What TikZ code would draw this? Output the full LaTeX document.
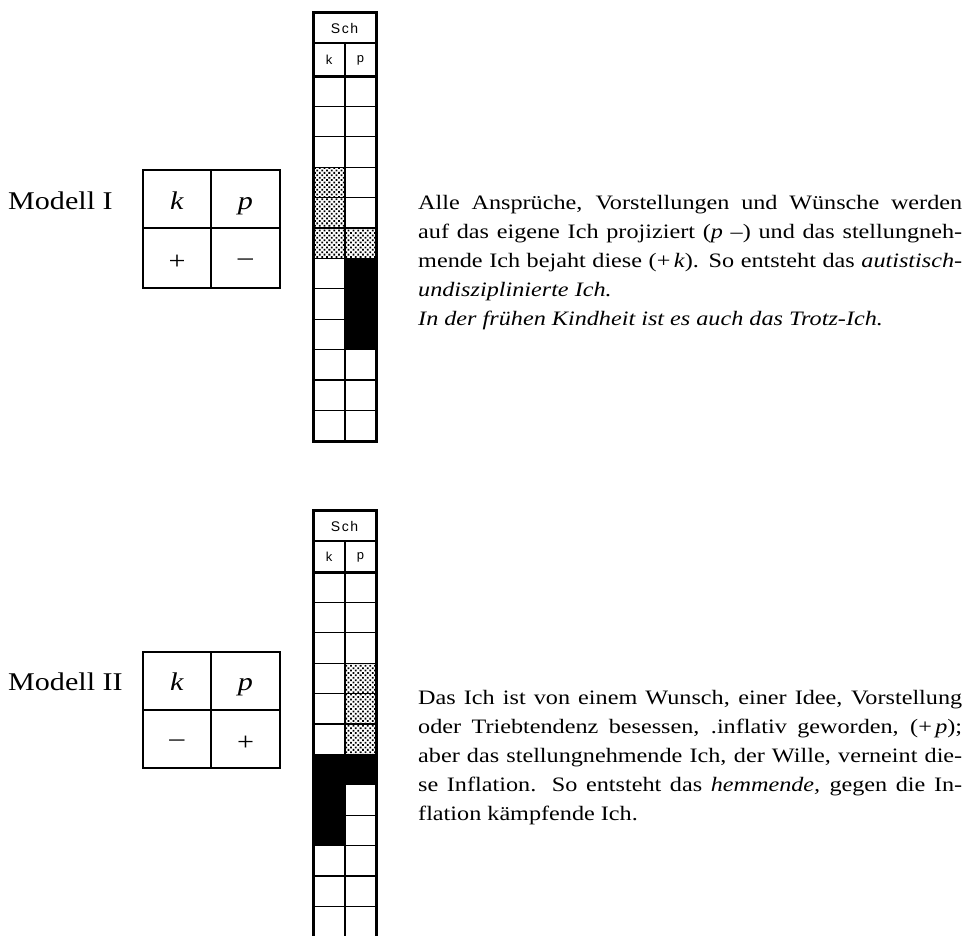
\documentclass[tikz,border=0pt]{standalone}
\usepackage{fontspec}
\setmainfont{Liberation Serif}[FakeStretch=1.18]
\newfontfamily\gridsans{Liberation Sans}
\usetikzlibrary{patterns.meta}
\tikzset{
  outerline/.style={line width=3pt},
  innerline/.style={line width=1.3pt},
  dotcell/.style={pattern={Dots[distance=3.4pt,radius=1.25pt,angle=45]}},
  blackcell/.style={fill=black},
  tabline/.style={line width=1.8pt},
  tabmid/.style={line width=2.5pt},
  bigtxt/.style={font=\fontsize{25.5}{29}\selectfont, inner sep=0pt},
  bodytxt/.style={font=\fontsize{20.5}{29}\selectfont, inner sep=0pt, anchor=base west},
  schtxt/.style={font=\gridsans\fontsize{14}{16}\selectfont, inner sep=0pt},
  kptxt/.style={font=\gridsans\fontsize{13}{15}\selectfont, inner sep=0pt},
}
\newcommand{\jline}[1]{\makebox[544pt][s]{#1}}
\newcommand{\schlabel}{S\kern1.6pt c\kern1.6pt h}
\begin{document}
\begin{tikzpicture}[x=1pt,y=-1pt]
\useasboundingbox (0,0) rectangle (969,935);
\def\h{30.4}
% ---------- Grid I ----------
\fill[dotcell] (313,{76+3*\h}) rectangle (345,{76+5*\h});
\fill[dotcell] (313,{76+5*\h}) rectangle (376,{76+6*\h});
\fill[blackcell] (345,{76+6*\h}) rectangle (376,{76+9*\h});
\foreach \i in {1,...,11} \draw[innerline] (313,{76+\i*\h}) -- (376,{76+\i*\h});
\draw[innerline] (313,43) -- (376,43);
\draw[innerline] (345,43) -- (345,441);
\draw[outerline] (313,76) -- (376,76);
\draw[outerline] (313,12) rectangle (376,441);
\node[schtxt] (sch1) at (344.5,28) {\schlabel};
\node[kptxt] (gk1) at (329,60) {k};
\node[kptxt] (gp1) at (360.5,60) {p};
% ---------- Grid II ----------
\fill[dotcell] (345,{572+3*\h}) rectangle (376,{572+6*\h});
\fill[blackcell] (313,{572+6*\h}) rectangle (376,{572+7*\h});
\fill[blackcell] (313,{572+7*\h}) rectangle (345,{572+9*\h});
\foreach \i in {1,...,11} \draw[innerline] (313,{572+\i*\h}) -- (376,{572+\i*\h});
\draw[innerline] (313,541) -- (376,541);
\draw[innerline] (345,541) -- (345,937);
\draw[outerline] (313,572) -- (376,572);
\draw[outerline] (313,940) -- (313,510) -- (376,510) -- (376,940);
\node[schtxt] (sch2) at (344.5,526) {\schlabel};
\node[kptxt] (gk2) at (329,557) {k};
\node[kptxt] (gp2) at (360.5,557) {p};
% ---------- Table I ----------
\draw[tabline] (143,170) rectangle (280,288);
\draw[tabline] (143,228) -- (280,228);
\draw[tabmid] (211,170) -- (211,288);
\node[bigtxt, anchor=base west] (m1) at (8,209) {Modell I};
\node[bigtxt, anchor=base] (tk1) at (177,209) {\textit{k}};
\node[bigtxt, anchor=base] (tp1) at (245.5,209) {\textit{p}};
\node[bigtxt] (ts1) at (177,262) {+};
\node[bigtxt] (tm1) at (245.5,262) {–};
% ---------- Table II ----------
\draw[tabline] (143,652) rectangle (280,768);
\draw[tabline] (143,710) -- (280,710);
\draw[tabmid] (211,652) -- (211,768);
\node[bigtxt, anchor=base west] (m2) at (8,690) {Modell II};
\node[bigtxt, anchor=base] (tk2) at (177,690) {\textit{k}};
\node[bigtxt, anchor=base] (tp2) at (245.5,690) {\textit{p}};
\node[bigtxt] (tm2) at (177,743) {–};
\node[bigtxt] (ts2) at (245.5,743) {+};
% ---------- Text I ----------
\node[bodytxt] (a1) at (418,209) {\jline{Alle Ansprüche, Vorstellungen und Wünsche werden}};
\node[bodytxt] (a2) at (418,238) {\jline{auf das eigene Ich projiziert (\textit{p} –) und das stellungneh-}};
\node[bodytxt] (a3) at (418,267) {\jline{mende Ich bejaht diese (+\,\textit{k}). So entsteht das \textit{autistisch-}}};
\node[bodytxt] (a4) at (418,296) {\textit{undisziplinierte Ich.}};
\node[bodytxt] (a5) at (418,325) {\textit{In der frühen Kindheit ist es auch das Trotz-Ich.}};
% ---------- Text II ----------
\node[bodytxt] (b1) at (418,704) {\jline{Das Ich ist von einem Wunsch, einer Idee, Vorstellung}};
\node[bodytxt] (b2) at (418,733) {\jline{oder Triebtendenz besessen, .inflativ geworden, (+\,\textit{p});}};
\node[bodytxt] (b3) at (418,762) {\jline{aber das stellungnehmende Ich, der Wille, verneint die-}};
\node[bodytxt] (b4) at (418,791) {\jline{se Inflation. So entsteht das \textit{hemmende,} gegen die In-}};
\node[bodytxt] (b5) at (418,820) {flation kämpfende Ich.};
\end{tikzpicture}
\end{document}
